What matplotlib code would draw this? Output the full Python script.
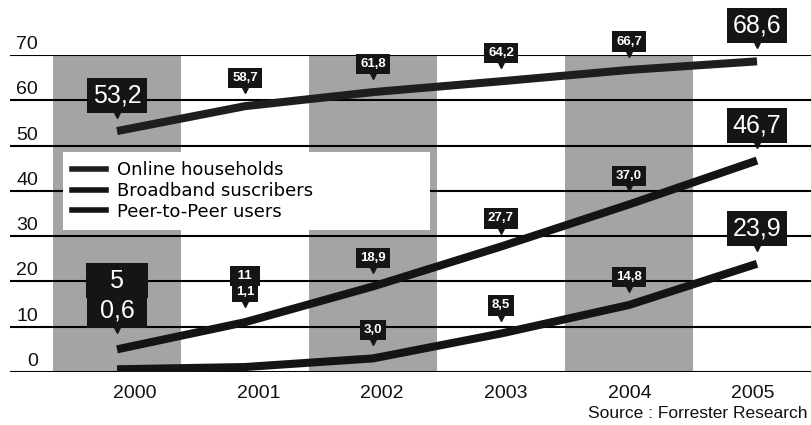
import matplotlib
matplotlib.use("Agg")
import matplotlib.pyplot as plt
from matplotlib.lines import Line2D
from matplotlib.transforms import offset_copy, blended_transform_factory

plt.rcParams['font.family'] = ['Liberation Sans', 'DejaVu Sans']

# Internet usage in millions (Forrester Research)
years = ['2000', '2001', '2002', '2003', '2004', '2005']
online = [53.2, 58.7, 61.8, 64.2, 66.7, 68.6]
broadband = [5, 11, 18.9, 27.7, 37.0, 46.7]
p2p = [0.6, 1.1, 3.0, 8.5, 14.8, 23.9]
y_ticks = [0, 10, 20, 30, 40, 50, 60, 70]

series = [
    ('Online households', online, '#1e1e1e'),
    ('Broadband suscribers', broadband, '#141414'),
    ('Peer-to-Peer users', p2p, '#141414'),
]

# pixel gap between data point and the bottom of its value box
default_gap = 18
special_gap = {('Broadband suscribers', 0): 51, ('Peer-to-Peer users', 0): 41,
               ('Broadband suscribers', 1): 36, ('Peer-to-Peer users', 1): 65}

fig = plt.figure(figsize=(8.12, 4.25), dpi=100)
ax = fig.add_axes([10 / 812, 53 / 425, 802 / 812, 317 / 425])
x = list(range(len(years)))

# alternating grey columns
for i in x[::2]:
    ax.axvspan(i - 0.5, i + 0.5, color='#a4a4a4', lw=0, zorder=0)

for t in y_ticks:
    ax.axhline(t, color='black', lw=1.5, zorder=1)

ytrans = blended_transform_factory(ax.transAxes, ax.transData)
for t in y_ticks:
    ax.annotate(str(t), xy=(0.035, t), xycoords=ytrans, xytext=(0, 6),
                textcoords='offset pixels', ha='right', va='baseline',
                fontsize=14, color='#111111')

for name, vals, col in series:
    ax.plot(x, vals, color=col, lw=5.8, solid_capstyle='butt',
            solid_joinstyle='round', zorder=2)

def fmt(v):
    if isinstance(v, int):
        return str(v)
    return f"{v:.1f}".replace('.', ',')

for name, vals, col in series:
    for i, v in enumerate(vals):
        big = i in (0, len(vals) - 1)
        fs = 18 if big else 9.5
        pad = 0.22 if big else 0.32
        gap = special_gap.get((name, i), default_gap)
        pad_px = pad * fs * 100 / 72
        label = fmt(v)
        # widen short labels so stacked boxes line up
        if big and len(label) == 1:
            label = '\u2006  ' + label + '  \u2006'
        elif big and len(label) == 3:
            label = ' ' + label + ' '
        elif len(label) == 2:
            label = ' ' + label + ' '
        ax.annotate(label, xy=(i, v), xytext=(0, gap + pad_px),
                    textcoords='offset pixels', ha='center', va='bottom',
                    fontsize=fs, color='white', zorder=6,
                    fontweight='normal' if big else 'bold',
                    bbox=dict(boxstyle=f'square,pad={pad}', fc='#151515', ec='none'))
        tip = offset_copy(ax.transData, fig=fig, x=0, y=gap - 2, units='dots')
        ax.plot(i, v, marker='v', ms=5, color='#151515', transform=tip,
                zorder=6, clip_on=False)

ax.set_xlim(-(117 - 10) / 128, (812 - 117) / 128)
ax.set_ylim(0, 70)
for s in ax.spines.values():
    s.set_visible(False)
ax.set_yticks([])
# year labels sit on a slightly tighter spacing than the data columns
ax.set_xticks([0.14 + i * 0.966 for i in x])
ax.set_xticklabels(years, fontsize=14, color='#111111')
ax.tick_params(axis='x', length=0, pad=9)

handles = [Line2D([], [], color=col, lw=4) for _, _, col in series]
leg = ax.legend(handles, [s[0] for s in series], loc='upper left',
                bbox_to_anchor=(0.0661, 0.457, 0.4576, 0.237), mode='expand',
                borderaxespad=0, fancybox=False, framealpha=1, edgecolor='none',
                prop={'family': 'DejaVu Sans', 'size': 13}, handlelength=1.9,
                handletextpad=0.6, labelspacing=0.16, borderpad=0.5)
leg.set_zorder(5)

fig.text(588 / 812, 1 - 413 / 425, 'Source : Forrester Research', fontsize=12.5,
         va='center', ha='left', color='#111111')

fig.savefig('out.png', dpi=100)
